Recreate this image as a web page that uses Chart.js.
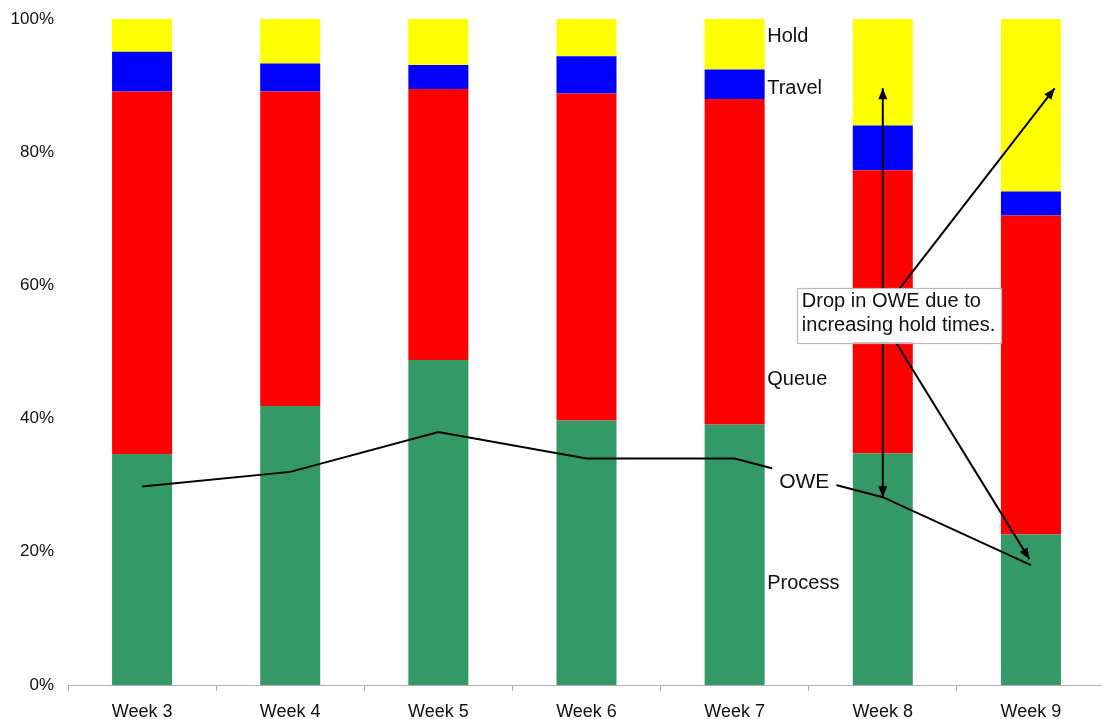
<!DOCTYPE html>
<html lang="en">
<head>
  <meta charset="UTF-8">
  <title>OWE by week</title>
  <script src="https://cdn.jsdelivr.net/npm/chart.js"></script>
  <style>
    html, body { margin: 0; padding: 0; background: #fff; overflow: hidden; }
    canvas { display: block; }
  </style>
</head>
<body>
  <canvas id="oweChart" width="1106" height="719"></canvas>

  <script>
    // --- data (percent of total time) ---
    const weeks = ['Week 3', 'Week 4', 'Week 5', 'Week 6', 'Week 7', 'Week 8', 'Week 9'];
    const processPct = [34.7, 41.9, 48.8, 39.7, 39.1, 34.8, 22.6];
    const queuePct   = [54.4, 47.2, 40.7, 49.1, 48.9, 42.5, 47.9];
    const travelPct  = [6.0, 4.2, 3.6, 5.6, 4.4, 6.7, 3.6];
    const holdPct    = [4.9, 6.8, 6.9, 5.6, 7.6, 16.0, 25.9];
    const owePct     = [29.8, 32.0, 38.0, 34.0, 34.0, 28.2, 18.0];
    const yTicks     = [0, 20, 40, 60, 80, 100];

    const FONT = '"Liberation Sans", Arial, sans-serif';
    const TEXT = '#111';

    // annotations, placed in axis units (x = category index, y = percent)
    const seriesLabels = [
      { text: 'Hold',    x: 4.22, y: 97.4 },
      { text: 'Travel',  x: 4.22, y: 89.6 },
      { text: 'Queue',   x: 4.22, y: 45.8 },
      { text: 'Process', x: 4.22, y: 15.2 }
    ];
    const oweLabel = { text: 'OWE', x: 4.47, y: 30.6 };
    const noteBox = { x0: 4.42, x1: 5.80, y0: 59.6, y1: 51.4,
                      lines: ['Drop in OWE due to', 'increasing hold times.'] };
    const arrows = [
      { from: [5, 28.2],    to: [5, 89.6],    both: true },
      { from: [5.115, 59.6], to: [6.16, 89.6], both: false },
      { from: [5.09, 51.4],  to: [5.99, 18.9], both: false }
    ];

    function drawHead(ctx, x0, y0, x1, y1) {
      const a = Math.atan2(y1 - y0, x1 - x0);
      const len = 11, half = 4.5;
      ctx.beginPath();
      ctx.moveTo(x1, y1);
      ctx.lineTo(x1 - len * Math.cos(a) + half * Math.sin(a), y1 - len * Math.sin(a) - half * Math.cos(a));
      ctx.lineTo(x1 - len * Math.cos(a) - half * Math.sin(a), y1 - len * Math.sin(a) + half * Math.cos(a));
      ctx.closePath();
      ctx.fill();
    }

    // text, arrows and the callout box drawn on top of the bars
    const notesPlugin = {
      id: 'notes',
      afterDatasetsDraw(chart) {
        const ctx = chart.ctx;
        const xs = chart.scales.x, ys = chart.scales.y;
        ctx.save();

        // series names beside Week 7
        ctx.fillStyle = TEXT;
        ctx.font = '20px ' + FONT;
        ctx.textAlign = 'left';
        ctx.textBaseline = 'middle';
        seriesLabels.forEach(l => {
          ctx.fillText(l.text, xs.getPixelForValue(l.x), ys.getPixelForValue(l.y));
        });

        // OWE label sits on the line with a white patch behind it
        ctx.font = '21px ' + FONT;
        const ox = xs.getPixelForValue(oweLabel.x), oy = ys.getPixelForValue(oweLabel.y);
        const ow = ctx.measureText(oweLabel.text).width;
        ctx.fillStyle = '#fff';
        ctx.fillRect(ox - ow / 2 - 7, oy - 15, ow + 14, 30);
        ctx.fillStyle = TEXT;
        ctx.textAlign = 'center';
        ctx.fillText(oweLabel.text, ox, oy + 1);

        // arrows
        ctx.strokeStyle = '#000';
        ctx.fillStyle = '#000';
        ctx.lineWidth = 2;
        arrows.forEach(a => {
          const x0 = xs.getPixelForValue(a.from[0]), y0 = ys.getPixelForValue(a.from[1]);
          const x1 = xs.getPixelForValue(a.to[0]), y1 = ys.getPixelForValue(a.to[1]);
          ctx.beginPath();
          ctx.moveTo(x0, y0);
          ctx.lineTo(x1, y1);
          ctx.stroke();
          drawHead(ctx, x0, y0, x1, y1);
          if (a.both) drawHead(ctx, x1, y1, x0, y0);
        });

        // callout box
        const bx = xs.getPixelForValue(noteBox.x0), bx1 = xs.getPixelForValue(noteBox.x1);
        const by = ys.getPixelForValue(noteBox.y0), by1 = ys.getPixelForValue(noteBox.y1);
        ctx.fillStyle = '#fff';
        ctx.fillRect(bx, by, bx1 - bx, by1 - by);
        ctx.strokeStyle = '#b8b8b8';
        ctx.lineWidth = 1.2;
        ctx.strokeRect(Math.round(bx) + 0.5, Math.round(by) + 0.5, Math.round(bx1 - bx), Math.round(by1 - by));
        ctx.fillStyle = TEXT;
        ctx.font = '20px ' + FONT;
        ctx.textAlign = 'left';
        noteBox.lines.forEach((line, i) => {
          ctx.fillText(line, bx + 5, by + 13 + i * 24);
        });

        ctx.restore();
      }
    };

    const barCommon = { categoryPercentage: 1.0, barPercentage: 0.405, borderWidth: 0, order: 1 };

    new Chart(document.getElementById('oweChart'), {
      data: {
        labels: weeks,
        datasets: [
          { type: 'line', label: 'OWE', data: owePct, stack: 'owe', order: 0,
            borderColor: '#000', borderWidth: 2, pointRadius: 0, tension: 0, fill: false },
          Object.assign({ type: 'bar', label: 'Process', data: processPct, backgroundColor: '#339966' }, barCommon),
          Object.assign({ type: 'bar', label: 'Queue', data: queuePct, backgroundColor: '#ff0000' }, barCommon),
          Object.assign({ type: 'bar', label: 'Travel', data: travelPct, backgroundColor: '#0000ff' }, barCommon),
          Object.assign({ type: 'bar', label: 'Hold', data: holdPct, backgroundColor: '#ffff00' }, barCommon)
        ]
      },
      options: {
        responsive: false,
        animation: false,
        layout: { padding: { top: 19, left: 0, right: 1, bottom: 0 } },
        plugins: {
          legend: { display: false },
          tooltip: { enabled: false }
        },
        scales: {
          x: {
            stacked: true,
            grid: { display: true, drawOnChartArea: false, drawTicks: true, tickLength: 6, color: '#b0b0b0', offset: true },
            border: { display: true, color: '#b0b0b0', width: 1 },
            ticks: { color: TEXT, font: { family: FONT, size: 18 }, padding: 10, maxRotation: 0 },
            afterFit(scale) { scale.height = 34; }
          },
          y: {
            stacked: true,
            min: 0,
            max: 100,
            afterBuildTicks(scale) { scale.ticks = yTicks.map(v => ({ value: v })); },
            grid: { display: false, drawTicks: false },
            border: { display: false },
            ticks: { color: TEXT, font: { family: FONT, size: 17 }, padding: 14, callback: v => v + '%' },
            afterFit(scale) {
              scale.width = 68;
              // tick padding would otherwise push the plot top down
              scale.paddingTop = 10;
              scale.paddingBottom = 10;
            }
          }
        }
      },
      plugins: [notesPlugin]
    });
  </script>
</body>
</html>
